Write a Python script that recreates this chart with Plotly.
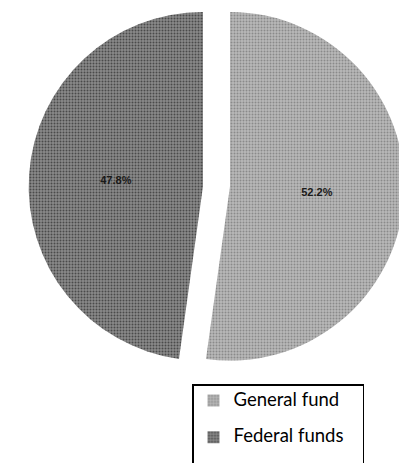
import plotly.graph_objects as go

categories = ["General fund", "Federal funds"]
shares = [52.2, 47.8]
slice_colors = ["#b9b9b9", "#8a8a8a"]
dot_colors = ["#8a8a8a", "#4a4a4a"]
percent_fmt = "%{percent:.1%}"

W, H = 407, 463
NONE = "rgba(0,0,0,0)"

# geometry of the exploded pie (pixels)
cx, cy, r, gap_half = 208.5, 181.0, 177.0, 13.5


def pie_domain(center_x):
    x0 = (center_x - r) / W
    x1 = (center_x + r) / W
    y0 = (H - cy - r) / H
    y1 = (H - cy + r) / H
    return dict(x=[x0, x1], y=[y0, y1])


def slice_trace(visible_index, center_x):
    colors = [c if i == visible_index else NONE for i, c in enumerate(slice_colors)]
    fg = [c if i == visible_index else NONE for i, c in enumerate(dot_colors)]
    texts = [percent_fmt if i == visible_index else "" for i in range(len(categories))]
    return go.Pie(
        labels=categories,
        values=shares,
        sort=False,
        direction="clockwise",
        rotation=0,
        marker=dict(
            colors=colors,
            line=dict(width=0),
            pattern=dict(shape=".", fgcolor=fg, bgcolor=colors, size=3, solidity=0.35),
        ),
        texttemplate=texts,
        textposition="inside",
        insidetextorientation="horizontal",
        textfont=dict(family="Liberation Sans", size=11, color="#1a1a1a", weight="bold"),
        hoverinfo="skip",
        showlegend=False,
        domain=pie_domain(center_x),
    )


# legend labels: the extra (blank) line reproduces the tall rows and wide box of the original legend
legend_labels = [
    "<span style='font-size:18.5px'>%s</span><br>%s" % (c, "\u00a0" * 37) for c in categories
]

# tiny pie that only feeds the legend; it sits hidden behind the legend box
legend_pie = go.Pie(
    labels=legend_labels,
    values=shares,
    sort=False,
    direction="clockwise",
    marker=dict(
        colors=slice_colors,
        line=dict(width=0),
        pattern=dict(shape=".", fgcolor=dot_colors, bgcolor=slice_colors, size=3, solidity=0.35),
    ),
    textinfo="none",
    hoverinfo="skip",
    showlegend=True,
    domain=dict(x=[0.70, 0.72], y=[0.10, 0.12]),
)

fig = go.Figure([
    slice_trace(0, cx + gap_half),
    slice_trace(1, cx - gap_half),
    legend_pie,
])

fig.update_layout(
    width=W,
    height=H,
    margin=dict(l=0, r=0, t=0, b=0),
    paper_bgcolor="white",
    plot_bgcolor="white",
    showlegend=True,
    legend=dict(
        x=184 / W,
        y=1 - 382 / H,
        xanchor="left",
        yanchor="top",
        bgcolor="white",
        bordercolor="black",
        borderwidth=1.5,
        font=dict(family="Lato", size=13, color="black"),
        valign="top",
    ),
)

fig.write_html("out.html")
